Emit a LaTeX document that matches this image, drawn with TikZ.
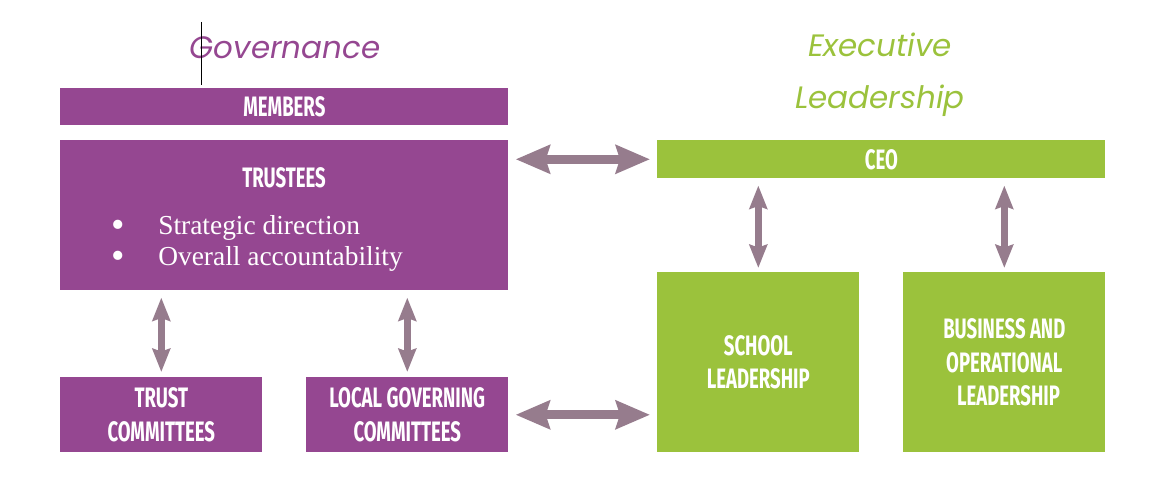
\documentclass[tikz,border=0pt]{standalone}
\usepackage{fontspec}
\setmainfont{Liberation Serif}
\newfontfamily\boxfont[FakeStretch=0.66]{Fira Sans}
\newfontfamily\titlefont{Poppins}
\usetikzlibrary{arrows.meta,positioning}

\definecolor{govpurple}{RGB}{149,71,145}
\definecolor{execgreen}{RGB}{155,194,60}
\definecolor{linkgrey}{RGB}{150,124,141}

\newcommand{\aimbullet}{\makebox[1.175cm][l]{\raisebox{-0.12em}{\scalebox{1.4}{\textbullet}}}}

\begin{document}
\begin{tikzpicture}[x=0.025cm,y=-0.025cm,
    gov box/.style={rectangle,fill=govpurple,anchor=north west,inner sep=0pt,
      text=white,align=center,font=\boxfont\bfseries\fontsize{20}{24}\selectfont},
    exec box/.style={gov box,fill=execgreen},
    title/.style={font=\titlefont\itshape\fontsize{22}{37}\selectfont,align=center},
    link/.style={{Stealth[length=0.85cm,width=0.7cm,inset=0.1cm]}-{Stealth[length=0.85cm,width=0.7cm,inset=0.1cm]},
      line width=0.225cm,draw=linkgrey},
    vlink/.style={{Stealth[length=0.58cm,width=0.44cm,inset=0.07cm]}-{Stealth[length=0.58cm,width=0.44cm,inset=0.07cm]},
      line width=0.18cm,draw=linkgrey}]

  \useasboundingbox (0,0) rectangle (1156,477);

  % titles
  \node[title,text=govpurple] (govtitle) at (285,48) {Governance};
  \node[title,text=execgreen] (exectitle) at (880,75) {Executive\\Leadership};
  \draw[line width=0.6pt] (201,22) -- (201,85);

  % governance side
  \node[gov box,minimum width=11.2cm,minimum height=0.925cm] (members) at (60,88) {MEMBERS};
  \node[gov box,minimum width=11.2cm,minimum height=3.75cm] (trustees) at (60,140) {};
  \node[gov box,anchor=center] (trusteeshead) at (284,178) {TRUSTEES};
  \node[anchor=north west,inner sep=0pt,text=white,align=left,
        font=\fontsize{19.5}{22}\selectfont] (aims) at (111,215)
    {\aimbullet Strategic direction\\
     \aimbullet Overall accountability};
  \node[gov box,minimum width=5.05cm,minimum height=1.875cm] (trustcomm) at (60,377) {TRUST\\COMMITTEES};
  \node[gov box,minimum width=5.05cm,minimum height=1.875cm] (lgc) at (306,377) {LOCAL GOVERNING\\COMMITTEES};

  % executive side
  \node[exec box,minimum width=11.2cm,minimum height=0.95cm] (ceo) at (657,140) {CEO};
  \node[exec box,minimum width=5.05cm,minimum height=4.5cm] (school) at (657,272) {SCHOOL\\LEADERSHIP};
  \node[exec box,minimum width=5.05cm,minimum height=4.5cm] (business) at (903,272) {BUSINESS AND\\OPERATIONAL\\\hspace{0.3em}LEADERSHIP};

  % links
  \path
    (trustees.east |- ceo.west) edge[link,shorten <=0.175cm,shorten >=0.175cm] (ceo.west)
    (lgc.east) edge[link,shorten <=0.175cm,shorten >=0.175cm] (lgc.east -| school.west)
    (trustees.south -| trustcomm.north) edge[vlink,shorten <=0.175cm,shorten >=0.125cm] (trustcomm.north)
    (trustees.south -| lgc.north) edge[vlink,shorten <=0.175cm,shorten >=0.125cm] (lgc.north)
    (ceo.south -| school.north) edge[vlink,shorten <=0.175cm,shorten >=0.1cm] (school.north)
    (ceo.south -| business.north) edge[vlink,shorten <=0.175cm,shorten >=0.1cm] (business.north);
\end{tikzpicture}
\end{document}
